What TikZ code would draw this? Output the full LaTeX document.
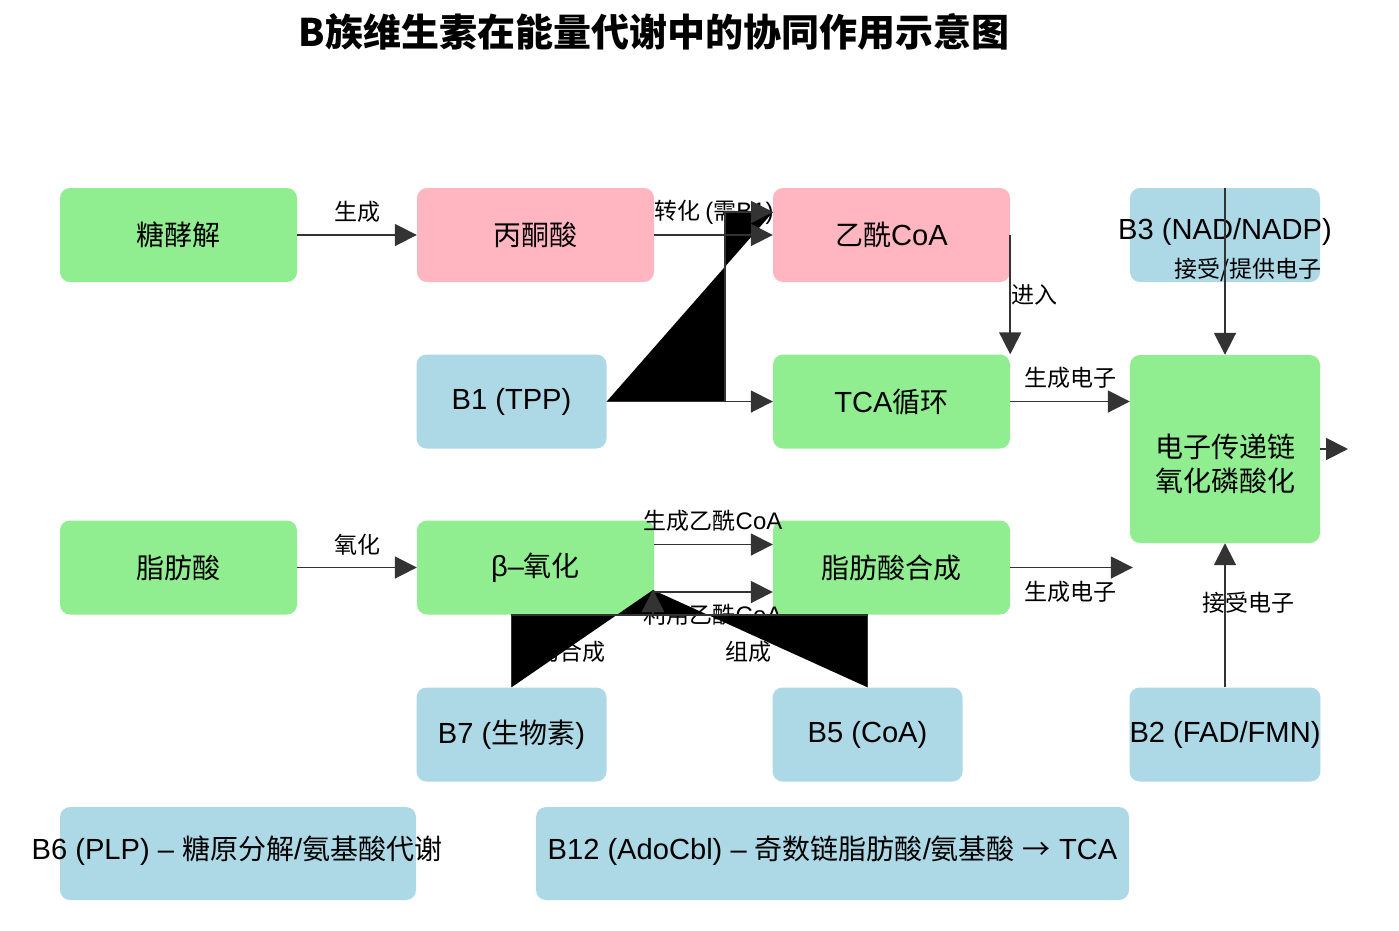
\documentclass[tikz,border=0pt]{standalone}
\usepackage{fontspec}
\setmainfont{Noto Sans CJK SC}
\newfontfamily\lat[Scale=1.04]{Liberation Sans}
\usetikzlibrary{arrows.meta,calc}
\definecolor{gfill}{HTML}{90EE90}
\definecolor{pfill}{HTML}{FFB6C1}
\definecolor{bfill}{HTML}{ADD8E6}
\definecolor{lc}{HTML}{333333}
\tikzset{
  box/.style={rounded corners=10pt, inner sep=0pt, align=center, font=\fontsize{28}{34}\selectfont, text=black},
  wide/.style={box, minimum width=237pt, minimum height=94pt},
  narrow/.style={box, minimum width=190pt, minimum height=94pt},
  gbox/.style={fill=gfill},
  pbox/.style={fill=pfill},
  bbox/.style={fill=bfill},
  arr/.style={draw=lc, line width=1.8pt, -{Triangle[length=22pt,width=22pt]}},
  lbl/.style={font=\fontsize{23}{27}\selectfont, inner sep=0pt, text=black},
  blk/.style={fill=black}
}
\begin{document}
\begin{tikzpicture}[x=1pt,y=-1pt]
\useasboundingbox (0,0) rectangle (1399,930);
\node[font=\fontsize{38}{44}\selectfont\bfseries] (title) at (654,32) {B族维生素在能量代谢中的协同作用示意图};
% boxes
\node[wide,gbox] (tj) at (178.5,235) {糖酵解};
\node[wide,pbox] (byt) at (535.5,235) {丙酮酸};
\node[wide,pbox] (yx) at (891.5,235) {乙酰{\lat CoA}};
\node[narrow,bbox] (b3) at (1225,235) {};
\node[narrow,bbox] (b1) at (511.5,401.5) {\lat B1 (TPP)};
\node[wide,gbox] (tca) at (891.5,401.5) {{\lat TCA}循环};
\node[box,gbox,minimum width=190pt,minimum height=188pt] (etc) at (1225,449) {};
\node[box] (etct) at (1225,464) {电子传递链\\氧化磷酸化};
\node[wide,gbox] (zfs) at (178.5,567.5) {脂肪酸};
\node[wide,gbox] (beta) at (535.5,567.5) {{\lat β–}氧化};
\node[wide,gbox] (hc) at (891.5,567.5) {脂肪酸合成};
\node[narrow,bbox] (b7) at (511.5,734.5) {{\lat B7 (}生物素{\lat )}};
\node[narrow,bbox] (b5) at (867.5,734.5) {\lat B5 (CoA)};
\node[narrow,bbox] (b2) at (1225,734.5) {\lat B2 (FAD/FMN)};
\node[box,bbox,minimum width=356pt,minimum height=93pt] (b6) at (238,853.5) {};
\node[box,bbox,minimum width=593pt,minimum height=93pt] (b12) at (832.5,853.5) {};
\node[box] (b6t) at (237,851) {{\lat B6 (PLP) – }糖原分解{\lat /}氨基酸代谢};
\node[box] (b12t) at (832.5,851) {{\lat B12 (AdoCbl) – }奇数链脂肪酸{\lat /}氨基酸{\lat\ }→{\lat\ TCA}};
\node[box] (b3t) at (1225,232) {\lat B3 (NAD/NADP)};
% coordinates
\coordinate (c1) at (725,401.5);
\coordinate (c2) at (725,212);
\coordinate (c3) at (773,212);
\coordinate (bt) at (653,590);
\coordinate (bb) at (653,615);
\coordinate (b7c) at (511.5,615);
\coordinate (b5c) at (867.5,615);
\coordinate (out) at (1348,449);
% labels
\node[lbl] (l1) at (357,212) {生成};
\node[lbl] (l2) at (714,212) {转化 {\lat (}需{\lat B1)}};
\node[lbl] (l3) at (1034,295) {进入};
\node[lbl] (l4) at (1070,378) {生成电子};
\node[lbl] (l5) at (1248,270) {接受/提供电子};
\node[lbl] (l6) at (357,545) {氧化};
\node[lbl] (l7) at (713,521) {生成乙酰{\lat CoA}};
\node[lbl] (l8) at (713,615) {利用乙酰{\lat CoA}};
\node[lbl] (l9) at (1070,592) {生成电子};
\node[lbl] (l10) at (1248,603) {接受电子};
\node[lbl] (l11) at (559,652) {辅助合成};
\node[lbl] (l12) at (748,652) {组成};
% black fills
\fill[blk] (b1.east) -- (c1) -- (c2) -- (c3) -- cycle;
\fill[blk] (b7.north) -- (b7c) -- (bb) -- (bt) -- cycle;
\fill[blk] (b5.north) -- (b5c) -- (bb) -- (bt) -- cycle;
% connectors
\draw[arr] (tj.east) -- (byt.west);
\draw[arr] (byt.east) -- (yx.west);
\draw[arr] (b1.east) -- (c1) -- (c2) -- (c3);
\draw[arr] (b1.east) -- (tca.west |- b1.east);
\draw[arr] (yx.east) -- (tca.north east);
\draw[arr] (tca.east) -- (etc.west |- tca.east);
\draw[arr] (b3.north) -- (etc.north);
\draw[arr] (etc.east) -- (out);
\draw[arr] (zfs.east) -- (beta.west);
\draw[arr] ($(beta.east)+(0,-23)$) -- ($(hc.west)+(0,-23)$);
\draw[arr] ($(beta.east)+(0,24.5)$) -- ($(hc.west)+(0,24.5)$);
\draw[arr] (hc.east) -- ($(etc.west |- hc.east)+(3,0)$);
\draw[arr] (b2.north) -- (etc.south);
\draw[arr] (b7.north) -- (b7c) -- (bb) -- (bt);
\draw[arr] (b5.north) -- (b5c) -- (bb) -- (bt);
\end{tikzpicture}
\end{document}
